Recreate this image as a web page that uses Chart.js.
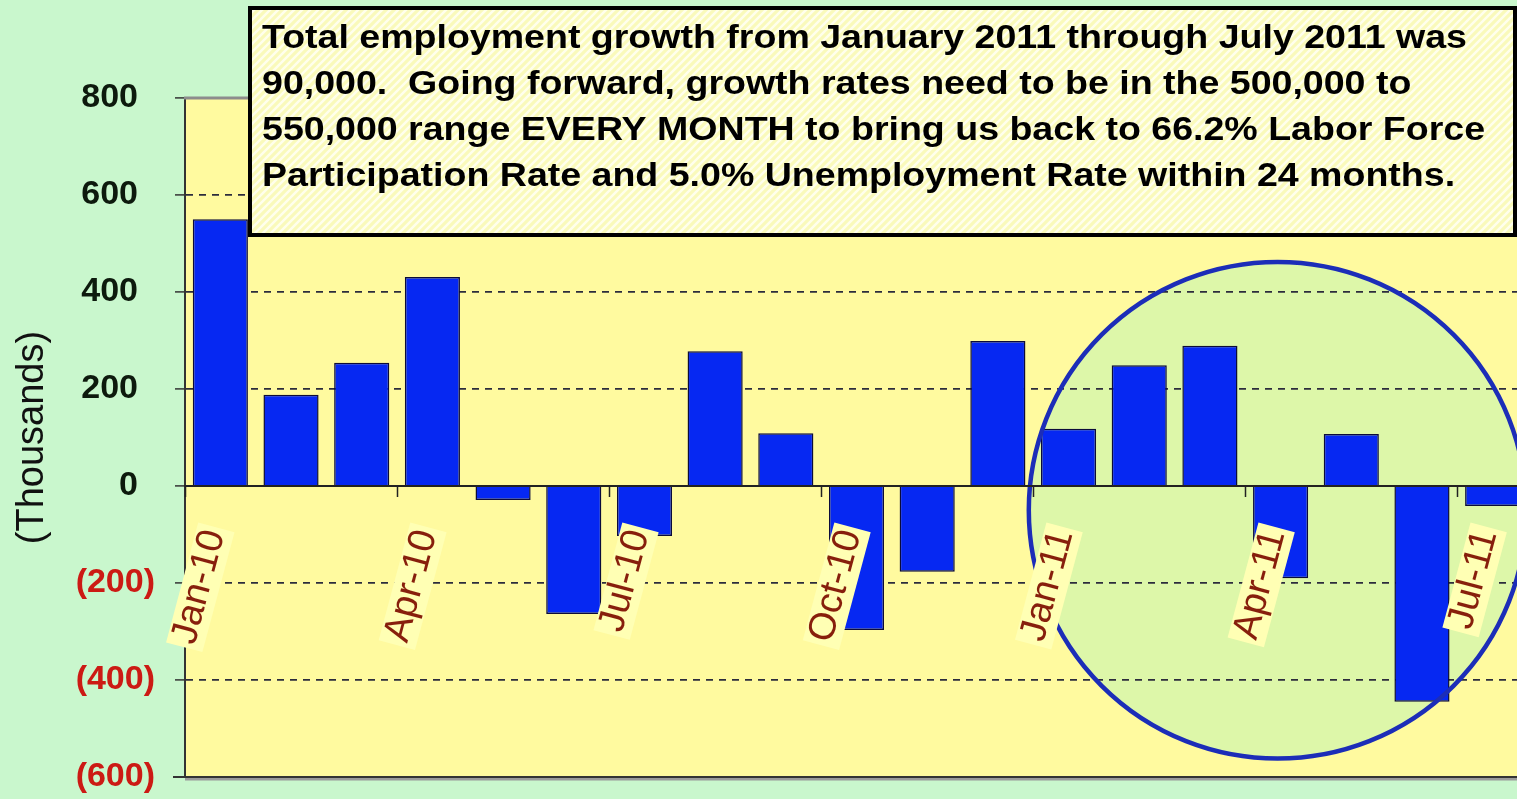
<!DOCTYPE html>
<html>
<head>
<meta charset="utf-8">
<script src="https://cdn.jsdelivr.net/npm/chart.js@4/dist/chart.umd.min.js"></script>
<style>
  html, body { margin: 0; padding: 0; background: #c9f7cd; overflow: hidden; }
  #wrap { width: 1530px; height: 799px; }
</style>
</head>
<body>
<div id="wrap"><canvas id="myChart" width="1530" height="799"></canvas></div>
<script>
// monthly change in total employment, thousands
const months = ["Jan-10", "Feb-10", "Mar-10", "Apr-10", "May-10", "Jun-10", "Jul-10", "Aug-10", "Sep-10",
  "Oct-10", "Nov-10", "Dec-10", "Jan-11", "Feb-11", "Mar-11", "Apr-11", "May-11", "Jun-11", "Jul-11"];
const jobChanges = [550, 188, 254, 431, -29, -264, -103, 278, 109, -297, -177, 299, 118, 249, 289, -190, 107, -445, -41];
const yMin = -600;
const yMax = 800;
const yStep = 200;
const noteLines = [
  "Total employment growth from January 2011 through July 2011 was",
  "90,000.  Going forward, growth rates need to be in the 500,000 to",
  "550,000 range EVERY MONTH to bring us back to 66.2% Labor Force",
  "Participation Rate and 5.0% Unemployment Rate within 24 months."
];

const FONT = '"Liberation Sans", Arial, sans-serif';

// hatched fill for the note box
function makeHatch() {
  const c = document.createElement("canvas");
  c.width = 8; c.height = 8;
  const p = c.getContext("2d");
  p.fillStyle = "#fafabb";
  p.fillRect(0, 0, 8, 8);
  p.strokeStyle = "#ffffec";
  p.lineWidth = 2.5;
  p.beginPath();
  p.moveTo(-2, 10); p.lineTo(10, -2);
  p.moveTo(-6, 6); p.lineTo(6, -6);
  p.moveTo(2, 14); p.lineTo(14, 2);
  p.stroke();
  return c;
}

function circleGeom(chart) {
  const { chartArea: a, scales: { x, y } } = chart;
  return {
    cx: x.getPixelForValue(15) - 3,
    cy: y.getPixelForValue(-50),
    rx: (a.right - a.left) / months.length * 3.52,
    ry: Math.abs(y.getPixelForValue(512) - y.getPixelForValue(0))
  };
}

// labels inside the plot should not shrink it
function noPadding(s) {
  s.paddingLeft = s.paddingRight = s.paddingTop = s.paddingBottom = 0;
}

const decorPlugin = {
  id: "decor",
  beforeDraw(chart) {
    const { ctx, chartArea: a } = chart;
    ctx.save();
    ctx.fillStyle = "#fffa9f";
    ctx.fillRect(a.left, a.top, a.right - a.left, a.bottom - a.top);
    // circle highlight (fill goes under the grid and bars)
    const c = circleGeom(chart);
    ctx.beginPath();
    ctx.ellipse(c.cx, c.cy, c.rx, c.ry, 0, 0, Math.PI * 2);
    ctx.fillStyle = "#ddf7a9";
    ctx.fill();
    ctx.restore();
  },
  afterDatasetsDraw(chart) {
    const { ctx } = chart;
    const c = circleGeom(chart);
    ctx.save();
    ctx.beginPath();
    ctx.ellipse(c.cx, c.cy, c.rx, c.ry, 0, 0, Math.PI * 2);
    ctx.strokeStyle = "#1c2db8";
    ctx.lineWidth = 4.5;
    ctx.stroke();
    ctx.restore();
  },
  afterDraw(chart) {
    const { ctx, chartArea: a } = chart;
    ctx.save();
    // plot frame top and bottom
    ctx.strokeStyle = "#8c8c8c";
    ctx.lineWidth = 3;
    ctx.beginPath();
    ctx.moveTo(a.left - 1, a.top); ctx.lineTo(a.right, a.top);
    ctx.stroke();
    ctx.strokeStyle = "#9a9a9a";
    ctx.beginPath();
    ctx.moveTo(a.left, a.bottom + 2); ctx.lineTo(a.right, a.bottom + 2);
    ctx.stroke();
    ctx.strokeStyle = "#333";
    ctx.lineWidth = 2;
    ctx.beginPath();
    ctx.moveTo(a.left - 12, a.bottom); ctx.lineTo(a.right, a.bottom);
    ctx.stroke();

    // note box
    const bx = 250, by = 8, bw = 1265, bh = 227;
    ctx.fillStyle = ctx.createPattern(makeHatch(), "repeat");
    ctx.fillRect(bx, by, bw, bh);
    ctx.strokeStyle = "#000";
    ctx.lineWidth = 4;
    ctx.strokeRect(bx, by, bw, bh);

    ctx.font = "bold 34px " + FONT;
    ctx.fillStyle = "#000";
    ctx.textBaseline = "alphabetic";
    const sx = 1205 / ctx.measureText(noteLines[0]).width;
    noteLines.forEach((line, i) => {
      ctx.save();
      ctx.translate(262, 48 + i * 46);
      ctx.scale(sx, 1);
      ctx.fillText(line, 0, 0);
      ctx.restore();
    });
    ctx.restore();
  }
};

new Chart("myChart", {
  type: "bar",
  data: {
    labels: months,
    datasets: [
      {
        label: "Employment change",
        data: jobChanges,
        backgroundColor: "#0628f2",
        borderColor: "#0b0b3a",
        borderWidth: 1.5,
        barPercentage: 0.78,
        categoryPercentage: 1
      }
    ]
  },
  options: {
    responsive: false,
    animation: false,
    layout: { padding: { top: 98, bottom: 22, right: 2, left: 0 } },
    plugins: {
      legend: { display: false },
      tooltip: { enabled: false }
    },
    scales: {
      x: {
        position: { y: 0 },
        offset: true,
        afterFit: noPadding,
        grid: {
          z: 1,
          drawOnChartArea: false,
          offset: true,
          tickLength: 10,
          tickWidth: 1.5,
          tickColor: (c) => (c.index % 3 === 0 ? "#222" : "rgba(0,0,0,0)")
        },
        border: { color: "#222", width: 2, z: 1 },
        ticks: {
          z: 1,
          autoSkip: false,
          minRotation: 75,
          maxRotation: 75,
          padding: 29,
          labelOffset: -28,
          color: "#871f0c",
          font: { family: FONT, size: 38 },
          callback: (v, i) => (i % 3 === 0 ? months[i] : ""),
          showLabelBackdrop: (c) => c.index % 3 === 0,
          backdropColor: "#ffffb4",
          backdropPadding: { top: -5, bottom: -3, left: 4, right: 4 }
        }
      },
      y: {
        min: yMin,
        max: yMax,
        afterFit: (s) => { s.width = 185; noPadding(s); },
        grid: {
          color: (c) => (c.tick && (c.tick.value === 0 || c.tick.value === yMax || c.tick.value === yMin) ? "rgba(0,0,0,0)" : "#2c2c3c"),
          lineWidth: 1.8,
          tickLength: 10,
          tickColor: "#333",
          tickWidth: 1.5
        },
        border: { color: "#333", width: 2, dash: [7, 6] },
        ticks: {
          stepSize: yStep,
          padding: 20,
          font: { family: FONT, size: 34, weight: "bold" },
          color: (c) => (c.tick && c.tick.value < 0 ? "#cc1a14" : "#0d1a0d"),
          callback: (v) => (v < 0 ? "(" + Math.abs(v) + ")" : v + "\u2002")
        },
        title: {
          display: true,
          text: "(Thousands)",
          color: "#111",
          font: { family: FONT, size: 38 },
          padding: { top: 10, bottom: 0 }
        }
      }
    }
  },
  plugins: [decorPlugin]
});
</script>
</body>
</html>
